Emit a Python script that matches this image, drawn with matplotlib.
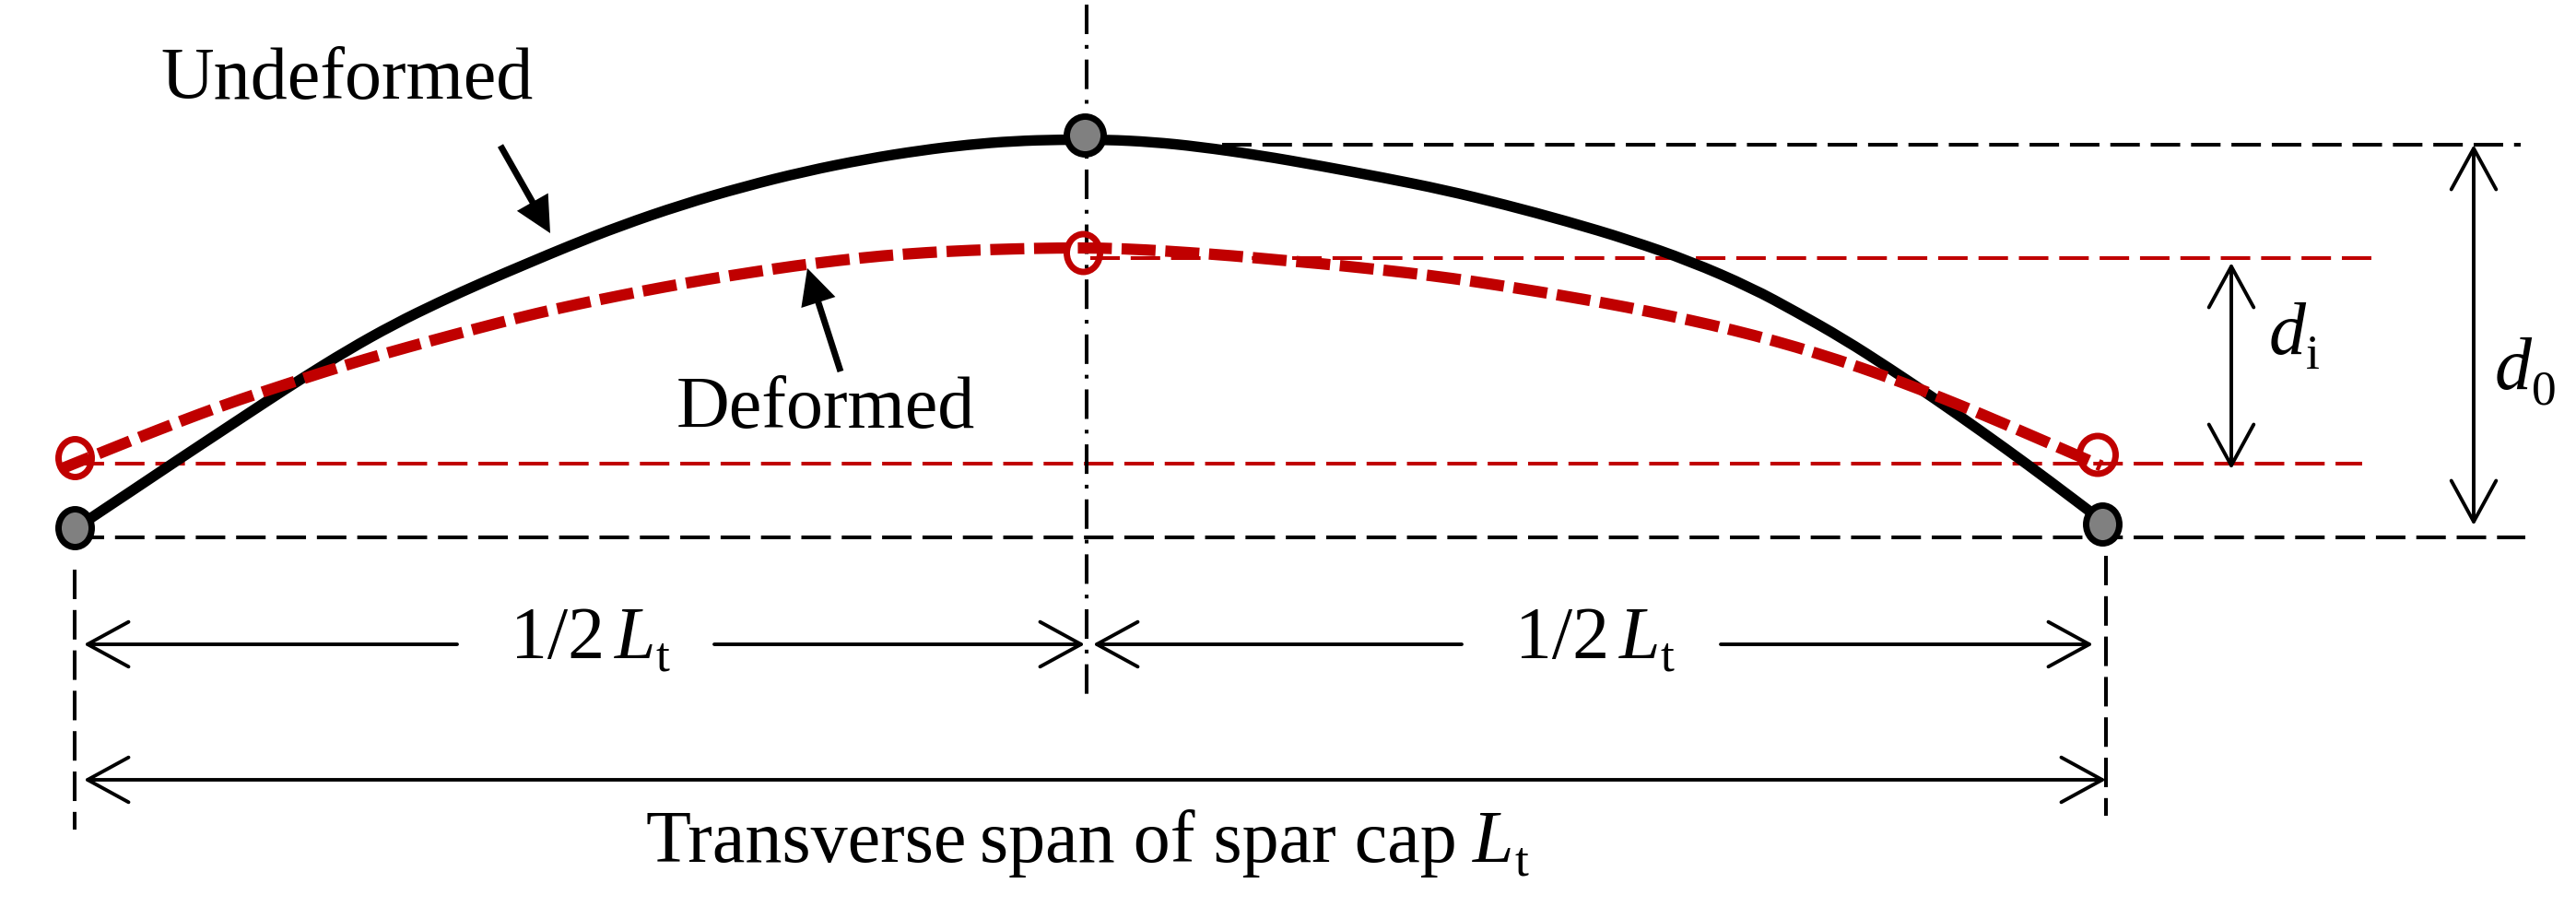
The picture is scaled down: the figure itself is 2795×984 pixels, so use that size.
import matplotlib
matplotlib.use("Agg")
import matplotlib.pyplot as plt
from matplotlib.patches import Ellipse, PathPatch
from matplotlib.path import Path

plt.rcParams['font.family'] = ['Liberation Serif', 'DejaVu Serif']
plt.rcParams['lines.scale_dashes'] = False

RED = '#c00000'
GRAY = '#808080'
FONT = 57.6      # 80 px em at dpi 100
SUB_FONT = 38.4
THIN_DASH = (23.04, 8.5)

# curves, in image pixels
undeformed_x = [81, 97, 143, 193, 243, 293, 327, 377, 427, 477, 527, 573, 617, 673, 740, 807, 873, 940, 1000, 1050,
                1100, 1150, 1200, 1250, 1300, 1367, 1433, 1500, 1567, 1633, 1700, 1767, 1833, 1900, 1950, 2000,
                2050, 2100, 2150, 2200, 2250, 2281]
undeformed_y = [574, 563, 532.5, 499, 466, 433, 411, 380, 352, 327.5, 305, 285.5, 267, 245, 222, 202.5, 186, 172.5,
                163, 157, 153, 151.5, 151.5, 154, 159, 168.5, 180, 192.5, 206, 222, 240, 260, 283, 312, 339, 367.5,
                399.5, 433, 468, 504, 541.5, 565]
deformed_x = [68, 127, 170, 217, 260, 310, 350, 397, 443, 487, 540, 582, 627, 673, 720, 768, 815, 862, 910, 957, 1005,
              1053, 1100, 1147, 1195, 1243, 1290, 1338, 1387, 1433, 1482, 1528, 1576, 1623, 1670, 1717, 1764, 1811,
              1857, 1904, 1949, 1996, 2041, 2085, 2129, 2174, 2218, 2263, 2280]
deformed_y = [508, 484, 467, 449, 433.5, 417, 404, 389.5, 376.5, 364.5, 350.5, 340, 330, 320.5, 311.5, 303, 295.5,
              288.5, 282.5, 277.5, 274, 271.5, 270, 269, 269, 271, 274, 277.5, 282, 286, 291, 296, 302, 309, 316.5,
              324.5, 333, 342.5, 352.5, 364, 376.5, 391, 406.5, 423, 440.5, 459.5, 478.5, 498, 505.5]

solid_node_x = [81.5, 1177.5, 2281.5]
solid_node_y = [573, 147, 569]
solid_node_w = [36, 40, 36]
open_node_x = [81.5, 1175.5, 2276]
open_node_y = [497, 274.5, 493.5]
open_node_w = [36, 36, 39]

fig = plt.figure(figsize=(27.95, 9.84), dpi=100)
ax = fig.add_axes([0, 0, 1, 1])
ax.set_xlim(0, 2795)
ax.set_ylim(984, 0)
ax.axis('off')


def smooth_curve(xs, ys, **kw):
    # read points act as quadratic control points, so the line has no kinks
    pts = list(zip(xs, ys))
    verts = [pts[0]]
    codes = [Path.MOVETO]
    for a, b in zip(pts[1:-2], pts[2:-1]):
        verts += [a, ((a[0] + b[0]) / 2, (a[1] + b[1]) / 2)]
        codes += [Path.CURVE3, Path.CURVE3]
    verts += [pts[-2], pts[-1]]
    codes += [Path.CURVE3, Path.CURVE3]
    ax.add_patch(PathPatch(Path(verts, codes), fill=False, **kw))


# reference lines
ax.plot([1326, 2735], [157, 157], color='k', lw=2.9, dashes=THIN_DASH)
ax.plot([81, 2740], [583, 583], color='k', lw=2.9, dashes=THIN_DASH)
ax.plot([1183, 2574], [280, 280], color=RED, lw=2.9, dashes=THIN_DASH)
ax.plot([81, 2563], [503, 503], color=RED, lw=2.9, dashes=THIN_DASH)
ax.plot([1179, 1179], [5, 753], color='k', lw=2.9, dashes=(23.04, 8.5, 2.9, 8.5))
ax.plot([81, 81], [618, 900], color='k', lw=2.9, dashes=THIN_DASH)
ax.plot([2285, 2285], [603, 885], color='k', lw=2.9, dashes=THIN_DASH)

# curves
smooth_curve(undeformed_x, undeformed_y, edgecolor='k', lw=8.2, capstyle='butt', zorder=3)
smooth_curve(deformed_x, deformed_y, edgecolor=RED, lw=8.8, capstyle='butt',
             linestyle=(4, (26.6, 7.6)), zorder=4)

for x, y, w in zip(solid_node_x, solid_node_y, solid_node_w):
    ax.add_patch(Ellipse((x, y), w, 41, fc=GRAY, ec='k', lw=5, zorder=5))
for x, y, w in zip(open_node_x, open_node_y, open_node_w):
    ax.add_patch(Ellipse((x, y), w, 41, fc='none', ec=RED, lw=5, zorder=5))


def dim(x0, y0, x1, y1, style):
    ax.annotate('', xy=(x1, y1), xytext=(x0, y0),
                arrowprops=dict(arrowstyle=f'{style},head_length=32,head_width=17.5', mutation_scale=1,
                                color='k', lw=2.8, shrinkA=0, shrinkB=0), zorder=6)


def pointer(x0, y0, x1, y1):
    ax.annotate('', xy=(x1, y1), xytext=(x0, y0),
                arrowprops=dict(width=5, headwidth=28, headlength=28, shrink=0,
                                facecolor='k', edgecolor='none'), zorder=6)


dim(496, 699, 91, 699, '->')
dim(775, 699, 1177, 699, '->')
dim(1586, 699, 1186, 699, '->')
dim(1867, 699, 2271, 699, '->')
dim(91, 846, 2285, 846, '<->')
dim(2421, 285, 2421, 509, '<->')
dim(2684, 157, 2684, 570, '<->')
pointer(543, 158, 597, 253)
pointer(912, 403, 876, 291)

labels = [
    (174, 107, 'Undeformed', 'normal', FONT),
    (734, 464, 'Deformed', 'normal', FONT),
    (554, 714, '1/2', 'normal', FONT),
    (667, 714, 'L', 'italic', FONT),
    (712, 728, 't', 'normal', SUB_FONT),
    (1644, 714, '1/2', 'normal', FONT),
    (1757, 714, 'L', 'italic', FONT),
    (1802, 728, 't', 'normal', SUB_FONT),
    (700.5, 935, 'Transverse', 'normal', FONT),
    (1063, 935, 'span of spar cap', 'normal', FONT),
    (1598, 935, 'L', 'italic', FONT),
    (1643, 949, 't', 'normal', SUB_FONT),
    (2462, 384, 'd', 'italic', FONT),
    (2502, 400, 'i', 'normal', SUB_FONT),
    (2707, 422, 'd', 'italic', FONT),
    (2747, 438.5, '0', 'normal', SUB_FONT),
]
for x, y, s, style, size in labels:
    ax.text(x, y, s, fontsize=size, fontstyle=style, ha='left', va='baseline', color='k', zorder=7)

fig.savefig('out.png', dpi=100)
